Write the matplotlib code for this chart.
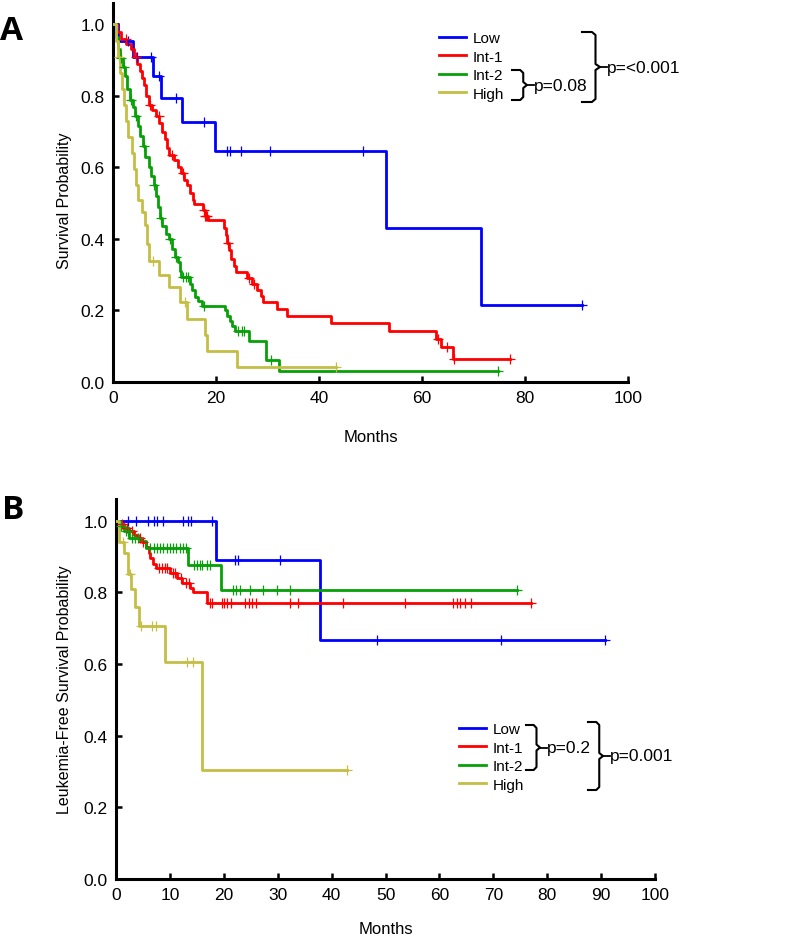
import numpy as np
import matplotlib
matplotlib.use("Agg")
import matplotlib.pyplot as plt

plt.rcParams['font.family'] = ['Liberation Sans', 'DejaVu Sans']

groups = ["Low", "Int-1", "Int-2", "High"]
colors = ["#0000ff", "#ff0000", "#08a008", "#c4be44"]

# ---- panel A: overall survival ----
A_low_t = [1.0, 3.9, 7.8, 9.4, 13.4, 19.9, 53.0, 71.5]
A_low_s = [0.955, 0.909, 0.856, 0.794, 0.727, 0.645, 0.430, 0.215]
A_low_end = 91.0
A_low_cens = [3.0, 4.6, 7.4, 9.0, 12.2, 17.6, 22.1, 22.8, 24.8, 30.5, 48.6, 91.0]

A_int1_t = [0.8, 1.6, 2.6, 3.4, 4.0, 4.6, 5.2, 5.7, 6.1, 6.5, 6.9, 7.6, 8.3, 9.0, 9.6,
            10.1, 10.5, 10.9, 11.8, 12.6, 13.2, 13.8, 14.4, 15.0, 15.5, 15.8, 17.4,
            17.9, 18.4, 21.5, 21.9, 22.2, 22.6, 23.0, 23.4, 23.8, 26.0, 27.0, 28.0,
            28.8, 29.2, 31.9, 33.7, 42.3, 53.6, 62.8, 63.6, 66.0]
A_int1_s = [0.98, 0.96, 0.945, 0.93, 0.91, 0.89, 0.87, 0.85, 0.83, 0.80, 0.775, 0.76,
            0.745, 0.725, 0.70, 0.68, 0.655, 0.635, 0.62, 0.60, 0.585, 0.565, 0.55,
            0.53, 0.51, 0.497, 0.48, 0.465, 0.452, 0.43, 0.41, 0.39, 0.37, 0.345,
            0.325, 0.307, 0.29, 0.275, 0.258, 0.24, 0.223, 0.203, 0.185, 0.165,
            0.143, 0.12, 0.098, 0.065]
A_int1_end = 77.0
A_int1_cens = [2.5, 4.4, 7.2, 8.9, 11.5, 13.5, 17.6, 17.9, 18.1, 18.3, 22.4, 26.5,
               27.3, 63.2, 64.8, 66.3, 77.0]

A_int2_t = [0.6, 1.0, 1.4, 1.9, 2.3, 2.8, 3.3, 3.8, 4.3, 4.8, 5.3, 5.8, 6.3, 6.9, 7.4,
            7.9, 8.3, 8.7, 9.2, 9.6, 10.3, 10.8, 11.4, 12.0, 12.6, 13.0, 13.3, 14.9,
            15.3, 16.0, 16.6, 17.3, 21.8, 22.2, 22.8, 23.2, 23.6, 26.4, 29.8, 32.3]
A_int2_s = [0.965, 0.93, 0.907, 0.88, 0.855, 0.82, 0.79, 0.77, 0.744, 0.715, 0.688,
            0.66, 0.63, 0.60, 0.576, 0.55, 0.52, 0.49, 0.46, 0.436, 0.415, 0.40,
            0.372, 0.35, 0.335, 0.31, 0.293, 0.275, 0.258, 0.238, 0.226, 0.213, 0.20,
            0.185, 0.17, 0.157, 0.143, 0.115, 0.061, 0.03]
A_int2_end = 74.8
A_int2_cens = [1.6, 2.1, 3.5, 4.4, 6.0, 8.0, 9.4, 11.0, 12.2, 13.6, 14.2, 14.6, 17.6,
               24.3, 25.0, 25.5, 30.6, 74.8]

A_high_t = [0.5, 0.9, 1.3, 1.7, 2.1, 2.6, 3.0, 3.6, 4.1, 4.5, 4.8, 5.6, 6.2, 6.6, 6.9,
            8.9, 10.8, 13.0, 14.4, 17.8, 18.3, 24.0]
A_high_s = [0.955, 0.91, 0.865, 0.82, 0.775, 0.73, 0.685, 0.64, 0.595, 0.55, 0.51,
            0.475, 0.44, 0.385, 0.338, 0.30, 0.265, 0.223, 0.176, 0.132, 0.088, 0.042]
A_high_end = 43.3
A_high_cens = [1.2, 7.8, 14.0, 43.3]

# ---- panel B: leukemia-free survival ----
B_low_t = [18.5, 37.8]
B_low_s = [0.889, 0.667]
B_low_end = 90.7
B_low_cens = [2.3, 3.8, 6.0, 7.0, 7.6, 8.8, 12.5, 13.4, 14.0, 17.8, 22.0, 22.7, 30.4,
              48.4, 71.4, 90.7]

B_int1_t = [0.8, 1.5, 2.5, 3.3, 4.0, 4.8, 5.5, 6.1, 6.4, 6.9, 7.5, 10.0, 11.4, 12.3,
            13.8, 14.3, 16.9]
B_int1_s = [0.99, 0.98, 0.972, 0.96, 0.95, 0.94, 0.925, 0.91, 0.895, 0.88, 0.868,
            0.853, 0.84, 0.825, 0.813, 0.80, 0.77]
B_int1_end = 77.0
B_int1_cens = [1.2, 2.0, 3.0, 4.4, 5.0, 8.0, 8.5, 9.0, 9.5, 10.6, 11.0, 12.0, 13.0,
               13.5, 17.5, 17.9, 19.6, 20.1, 20.6, 21.3, 24.0, 24.6, 25.3, 26.0, 32.3,
               33.8, 42.1, 53.6, 62.5, 63.3, 63.8, 64.7, 65.9, 77.0]

B_int2_t = [0.8, 1.5, 2.4, 4.4, 5.5, 13.4, 19.5]
B_int2_s = [0.985, 0.972, 0.95, 0.944, 0.922, 0.877, 0.806]
B_int2_end = 74.4
B_int2_cens = [1.0, 1.8, 2.2, 3.0, 3.5, 4.0, 6.3, 7.0, 7.6, 8.2, 8.8, 9.4, 10.0, 10.6,
               11.2, 11.8, 12.4, 13.0, 14.5, 15.0, 15.5, 16.0, 16.8, 17.5, 21.7, 22.3,
               23.0, 24.9, 27.3, 29.8, 32.3, 74.4]

B_high_t = [0.5, 1.5, 2.3, 2.8, 3.6, 4.2, 9.1, 16.0]
B_high_s = [0.94, 0.91, 0.85, 0.81, 0.76, 0.706, 0.605, 0.303]
B_high_end = 42.8
B_high_cens = [1.3, 2.6, 4.7, 6.6, 7.5, 13.1, 14.3, 42.8]

A_curves = [(A_low_t, A_low_s, A_low_end, A_low_cens),
            (A_int1_t, A_int1_s, A_int1_end, A_int1_cens),
            (A_int2_t, A_int2_s, A_int2_end, A_int2_cens),
            (A_high_t, A_high_s, A_high_end, A_high_cens)]
B_curves = [(B_low_t, B_low_s, B_low_end, B_low_cens),
            (B_int1_t, B_int1_s, B_int1_end, B_int1_cens),
            (B_int2_t, B_int2_s, B_int2_end, B_int2_cens),
            (B_high_t, B_high_s, B_high_end, B_high_cens)]


def km_plot(ax, curves):
    lines = []
    for (t, s, end, cens), col, name in zip(curves, colors, groups):
        x = np.array([0.0] + list(t) + [end])
        y = np.array([1.0] + list(s) + [s[-1]])
        ln, = ax.step(x, y, where='post', color=col, lw=2.0, label=name, zorder=3)
        lines.append(ln)
        tt = np.array(t)
        ss = np.array([1.0] + list(s))
        cy = ss[np.searchsorted(tt, np.array(cens), side='right')]
        ax.plot(cens, cy, ls='none', marker='+', ms=7, mew=0.9, color=col, zorder=4)
    return lines


def style_axes(ax, xticks):
    ax.set_xlim(0, 100)
    ax.set_ylim(0, 1.06)
    ax.set_xticks(xticks)
    ax.set_yticks([0.0, 0.2, 0.4, 0.6, 0.8, 1.0])
    ax.set_yticklabels(["0.0", "0.2", "0.4", "0.6", "0.8", "1.0"])
    for sp in ['top', 'right']:
        ax.spines[sp].set_visible(False)
    for sp in ['left', 'bottom']:
        ax.spines[sp].set_linewidth(2.2)
    ax.tick_params(direction='in', length=4, width=1.8, labelsize=12.5, pad=6)
    ax.patch.set_alpha(0)


fig = plt.figure(figsize=(8, 9.37), dpi=100)

# pixel geometry -> figure fractions
axA = fig.add_axes([113 / 800, 1 - 383 / 937, 515 / 800, 379 / 937])
axB = fig.add_axes([116 / 800, 1 - 880 / 937, 539 / 800, 380 / 937])

linesA = km_plot(axA, A_curves)
style_axes(axA, [0, 20, 40, 60, 80, 100])
axA.set_ylabel("Survival Probability", fontsize=11.5)
axA.set_xlabel("Months", fontsize=12)
axA.yaxis.set_label_coords(-0.08, 0.48)
axA.xaxis.set_label_coords(0.5, -0.125)

linesB = km_plot(axB, B_curves)
style_axes(axB, list(range(0, 101, 10)))
axB.set_ylabel("Leukemia-Free Survival Probability", fontsize=11.5)
axB.set_xlabel("Months", fontsize=12)
axB.yaxis.set_label_coords(-0.082, 0.5)
axB.xaxis.set_label_coords(0.5, -0.11)

legkw = dict(loc='upper left', frameon=False, fontsize=11, handlelength=1.75,
             handletextpad=0.45, labelspacing=0.3, borderpad=0, borderaxespad=0,
             bbox_transform=fig.transFigure)
fig.legend(handles=linesA, bbox_to_anchor=(439 / 800, 1 - 32 / 937), **legkw)
fig.legend(handles=linesB, bbox_to_anchor=(459 / 800, 1 - 723 / 937), **legkw)

# overlay in pixel coordinates for the braces and p-values
ov = fig.add_axes([0, 0, 1, 1])
ov.set_xlim(0, 800)
ov.set_ylim(937, 0)
ov.axis('off')


def brace(x0, yt, yb, w, label):
    ym = (yt + yb) / 2
    xs = [x0, x0 + w * 0.55, x0 + w * 0.75, x0 + w * 0.75, x0 + w, x0 + w * 0.75,
          x0 + w * 0.75, x0 + w * 0.55, x0]
    ys = [yt, yt, yt + 3, ym - 3, ym, ym + 3, yb - 3, yb, yb]
    ov.plot(xs, ys, color='black', lw=1.5, solid_joinstyle='round')
    ov.plot([x0 + w, x0 + w + 7], [ym, ym], color='black', lw=1.3)
    ov.text(x0 + w + 7, ym, label, fontsize=12.5, va='center', ha='left')


brace(512, 71, 101, 15, "p=0.08")
brace(582, 33, 103, 18, "p=<0.001")
brace(526, 726, 771, 14, "p=0.2")
brace(588, 723, 791, 15, "p=0.001")

fig.text(12 / 800, 1 - 32 / 937, "A", fontsize=24, fontweight='bold',
         family='Open Sans', ha='center', va='center')
fig.text(13 / 800, 1 - 511 / 937, "B", fontsize=24, fontweight='bold',
         family='Open Sans', ha='center', va='center')

fig.savefig("out.png", dpi=100)
